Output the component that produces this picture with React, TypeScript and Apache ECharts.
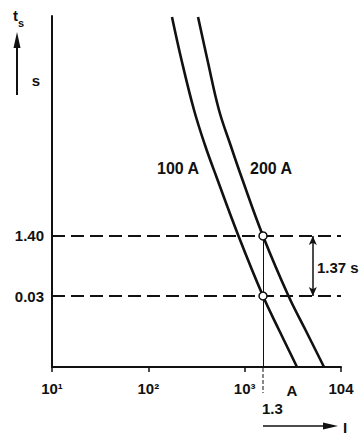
import React, { useEffect, useRef } from "react";
import * as echarts from "echarts";

// Melting time (s) levels shared by both curves, and the current (A) of each curve at those times
const times = [1.69e6, 1.08e5, 4400, 470, 60.7, 1.4, 0.03, 3.41e-3, 3.2e-4];
const currents100A = [176, 221, 298, 387, 510, 863, 1550, 2273, 3494];
const currents200A = [328, 411, 541, 713, 927, 1550, 2852, 4281, 6661];

const crossCurrent = 1550;
const levelHigh = 1.4;
const levelLow = 0.03;
const arrowCurrent = 5100;
const xTickLabels: Record<number, string> = { 10: "10¹", 100: "10²", 1000: "10³", 10000: "104" };

const Y_MIN = 3.2e-4;
const Y_MAX = 1.8e6;

const INK = "#111";
const FAMILY = '"Liberation Sans", Arial, sans-serif';
const FONT = `bold 15px ${FAMILY}`;
const FONT16 = `bold 16px ${FAMILY}`;

export default function App() {
  const ref = useRef<HTMLDivElement>(null);
  useEffect(() => {
    if (!ref.current) return;
    const chart = echarts.init(ref.current, undefined, { renderer: "svg" });
    const pair = (xs: number[]) => xs.map((x, i) => [x, times[i]]);
    chart.setOption({
      animation: false,
      backgroundColor: "#fff",
      grid: { left: 52, right: 20, top: 16, bottom: 68 },
      xAxis: {
        type: "log",
        logBase: 10,
        min: 10,
        max: 10000,
        axisLine: { show: true, lineStyle: { color: INK, width: 2 } },
        axisTick: { show: true, inside: false, length: 5, lineStyle: { color: INK, width: 1.5 } },
        minorTick: { show: false },
        splitLine: { show: false },
        axisLabel: {
          margin: 14,
          color: INK,
          fontSize: 15,
          fontWeight: "bold",
          fontFamily: FAMILY,
          formatter: (v: number) => xTickLabels[Math.round(v)] ?? "",
        },
      },
      yAxis: {
        type: "log",
        logBase: 10,
        min: Y_MIN,
        max: Y_MAX,
        axisLine: { show: true, lineStyle: { color: INK, width: 2 } },
        axisTick: { show: false },
        axisLabel: { show: false },
        splitLine: { show: false },
      },
      series: [
        {
          type: "line",
          name: "100 A",
          data: pair(currents100A),
          smooth: 0.4,
          symbol: "none",
          lineStyle: { color: INK, width: 2.6 },
          markLine: {
            silent: true,
            symbol: ["none", "none"],
            label: {
              position: "start",
              distance: 8,
              color: INK,
              fontSize: 15,
              fontWeight: "bold",
              fontFamily: FAMILY,
              formatter: (p: any) => (p.value >= 1 ? "1.40" : "0.03"),
            },
            lineStyle: { color: INK, width: 1.8, type: [13, 6] },
            data: [{ yAxis: levelHigh }, { yAxis: levelLow }],
          },
        },
        {
          type: "line",
          name: "200 A",
          data: pair(currents200A),
          smooth: 0.4,
          symbol: "none",
          lineStyle: { color: INK, width: 2.6 },
          markLine: {
            silent: true,
            label: { show: false },
            data: [
              [
                { coord: [crossCurrent, levelHigh], symbol: "none", lineStyle: { color: INK, width: 1, type: "solid" } },
                { coord: [crossCurrent, Y_MIN], symbol: "none" },
              ],
              [
                { coord: [arrowCurrent, levelHigh], symbol: "arrow", symbolSize: [6, 9], lineStyle: { color: INK, width: 1.5, type: "solid" } },
                { coord: [arrowCurrent, levelLow], symbol: "arrow", symbolSize: [6, 9] },
              ],
            ],
          },
        },
        {
          type: "scatter",
          data: [
            [crossCurrent, levelHigh],
            [crossCurrent, levelLow],
          ],
          symbol: "circle",
          symbolSize: 8,
          z: 10,
          itemStyle: { color: "#fff", borderColor: INK, borderWidth: 1.5, opacity: 1 },
        },
      ],
    });

    const cx = chart.convertToPixel({ xAxisIndex: 0 }, crossCurrent) as number;
    const txt = (text: string, x: number, y: number, align = "left", font = FONT) => ({
      type: "text",
      x,
      y,
      style: { text, fill: INK, font, textAlign: align, textVerticalAlign: "middle" },
    });
    chart.setOption({
      graphic: [
        txt("t", 13, 15),
        txt("s", 18, 23, "left", `bold 11px ${FAMILY}`),
        { type: "line", shape: { x1: 17, y1: 95, x2: 17, y2: 44 }, style: { stroke: INK, lineWidth: 2 } },
        { type: "polygon", shape: { points: [[17, 32], [13.5, 48], [20.5, 48]] }, style: { fill: INK } },
        txt("s", 36, 80, "center"),
        txt("100 A", 157, 168, "left", FONT16),
        txt("200 A", 250, 168, "left", FONT16),
        txt("1.37 s", 317, 267),
        txt("A", 292, 390, "center"),
        txt("1.3", 262, 408),
        { type: "line", shape: { x1: cx, y1: 368, x2: cx, y2: 393 }, style: { stroke: INK, lineWidth: 1, lineDash: [4, 2] } },
        { type: "line", shape: { x1: 263, y1: 426, x2: 326, y2: 426 }, style: { stroke: INK, lineWidth: 1.5 } },
        { type: "polygon", shape: { points: [[338, 426], [323, 422.5], [323, 429.5]] }, style: { fill: INK } },
        txt("I", 345, 427, "center"),
      ],
    });
    return () => chart.dispose();
  }, []);
  return (
    <div
      ref={ref}
      style={{ position: "absolute", left: 0, top: 0, width: 361, height: 435, background: "#fff" }}
    />
  );
}
